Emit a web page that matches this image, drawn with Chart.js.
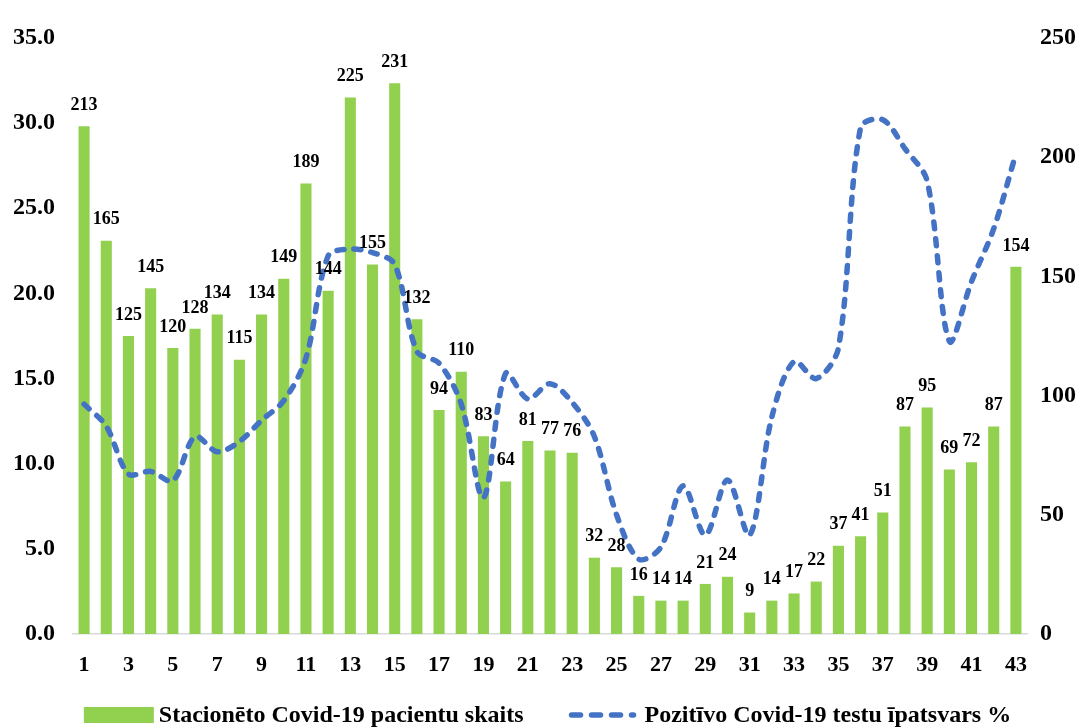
<!DOCTYPE html>
<html>
<head>
<meta charset="utf-8">
<script src="https://cdn.jsdelivr.net/npm/chart.js@4.4.0/dist/chart.umd.min.js"></script>
<style>
  html, body { margin: 0; padding: 0; background: #fff; }
  #wrap { width: 1087px; height: 727px; }
</style>
</head>
<body>
<div id="wrap"><canvas id="chart"></canvas></div>
<script>
// nedēļas
const nedelas = ['1','2','3','4','5','6','7','8','9','10','11','12','13','14','15','16','17','18','19','20','21','22',
  '23','24','25','26','27','28','29','30','31','32','33','34','35','36','37','38','39','40','41','42','43'];

// stacionēto pacientu skaits (labā ass)
const pacienti = [213,165,125,145,120,128,134,115,134,149,189,144,225,155,231,132,94,110,83,64,81,77,76,
  32,28,16,14,14,21,24,9,14,17,22,37,41,51,87,95,69,72,87,154];

// pozitīvo testu īpatsvars % (kreisā ass)
const pozitivie = [13.5,12.2,9.4,9.55,9.0,11.6,10.7,11.3,12.55,13.7,16.2,22.2,22.6,22.4,21.7,16.6,15.9,13.5,8.0,15.3,
  13.8,14.7,13.6,11.6,7.0,4.4,5.1,8.7,5.8,9.05,5.8,12.75,16.0,15.0,16.8,29.75,30.2,28.5,26.6,17.2,20.7,23.8,28.2];

const nosaukumi = ['Stacionēto Covid-19 pacientu skaits', 'Pozitīvo Covid-19 testu īpatsvars %'];

const ZALS = '#92D050';
const ZILS = '#4472C4';
const FONTS = '"Liberation Serif", "Times New Roman", serif';
const DASH = [7, 10];

// skaitļi virs stabiņiem
const vertibas = {
  id: 'vertibas',
  afterDatasetsDraw(chart) {
    const meta = chart.getDatasetMeta(1);
    const ctx = chart.ctx;
    ctx.save();
    ctx.font = 'bold 18px ' + FONTS;
    ctx.fillStyle = '#000';
    ctx.textAlign = 'center';
    ctx.textBaseline = 'middle';
    meta.data.forEach((el, i) => {
      ctx.fillText(pacienti[i], el.x, el.y - 21);
    });
    ctx.restore();
  }
};

// leģenda apakšā
const legenda = {
  id: 'legenda',
  afterDraw(chart) {
    const ctx = chart.ctx;
    const y = 715;
    ctx.save();
    ctx.font = 'bold 24px ' + FONTS;
    const w1 = ctx.measureText(nosaukumi[0]).width;
    const w2 = ctx.measureText(nosaukumi[1]).width;
    const total = 70 + 5 + w1 + 45 + 68 + 8 + w2;
    let x = (chart.width - total) / 2 + 4;
    ctx.fillStyle = ZALS;
    ctx.fillRect(x, y - 8, 70, 16);
    x += 75;
    ctx.fillStyle = '#000';
    ctx.textBaseline = 'middle';
    ctx.fillText(nosaukumi[0], x, y + 1);
    x += w1 + 45;
    ctx.strokeStyle = ZILS;
    ctx.lineWidth = 5.5;
    ctx.lineCap = 'round';
    ctx.setLineDash([9, 11]);
    ctx.beginPath();
    ctx.moveTo(x + 3, y);
    ctx.lineTo(x + 65, y);
    ctx.stroke();
    ctx.setLineDash([]);
    x += 76;
    ctx.fillText(nosaukumi[1], x, y + 1);
    ctx.restore();
  }
};

new Chart(document.getElementById('chart'), {
  type: 'bar',
  data: {
    labels: nedelas,
    datasets: [
      {
        type: 'line',
        label: nosaukumi[1],
        data: pozitivie,
        yAxisID: 'y',
        borderColor: ZILS,
        borderWidth: 5.5,
        borderDash: DASH,
        borderCapStyle: 'round',
        pointRadius: 0,
        tension: 0.32,
        fill: false,
        order: 0
      },
      {
        type: 'bar',
        label: nosaukumi[0],
        data: pacienti,
        yAxisID: 'y1',
        backgroundColor: ZALS,
        barPercentage: 0.5,
        categoryPercentage: 1,
        order: 1
      }
    ]
  },
  options: {
    responsive: true,
    maintainAspectRatio: false,
    animation: false,
    layout: { padding: { top: 38, left: 0, right: 0, bottom: 33 } },
    plugins: {
      legend: { display: false },
      tooltip: { enabled: false }
    },
    scales: {
      x: {
        grid: { display: false, drawTicks: false },
        border: { display: true, color: '#d9d9d9', width: 1.5 },
        ticks: {
          autoSkip: false,
          maxRotation: 0,
          padding: 18,
          color: '#000',
          font: { family: FONTS, size: 22, weight: 'bold' },
          callback: (v, i) => (i % 2 === 0 ? nedelas[i] : '')
        },
        afterFit: s => { s.height = 60; }
      },
      y: {
        position: 'left',
        min: 0,
        max: 35,
        grid: { display: false, drawTicks: false },
        border: { display: false },
        ticks: {
          stepSize: 5,
          padding: 18,
          color: '#000',
          font: { family: FONTS, size: 24, weight: 'bold' },
          callback: v => v.toFixed(1)
        },
        afterFit: s => { s.width = 73; }
      },
      y1: {
        position: 'right',
        min: 0,
        max: 250,
        grid: { display: false, drawTicks: false },
        border: { display: false },
        ticks: {
          stepSize: 50,
          padding: 13,
          color: '#000',
          font: { family: FONTS, size: 24, weight: 'bold' }
        },
        afterFit: s => { s.width = 60; }
      }
    }
  },
  plugins: [vertibas, legenda]
});
</script>
</body>
</html>
